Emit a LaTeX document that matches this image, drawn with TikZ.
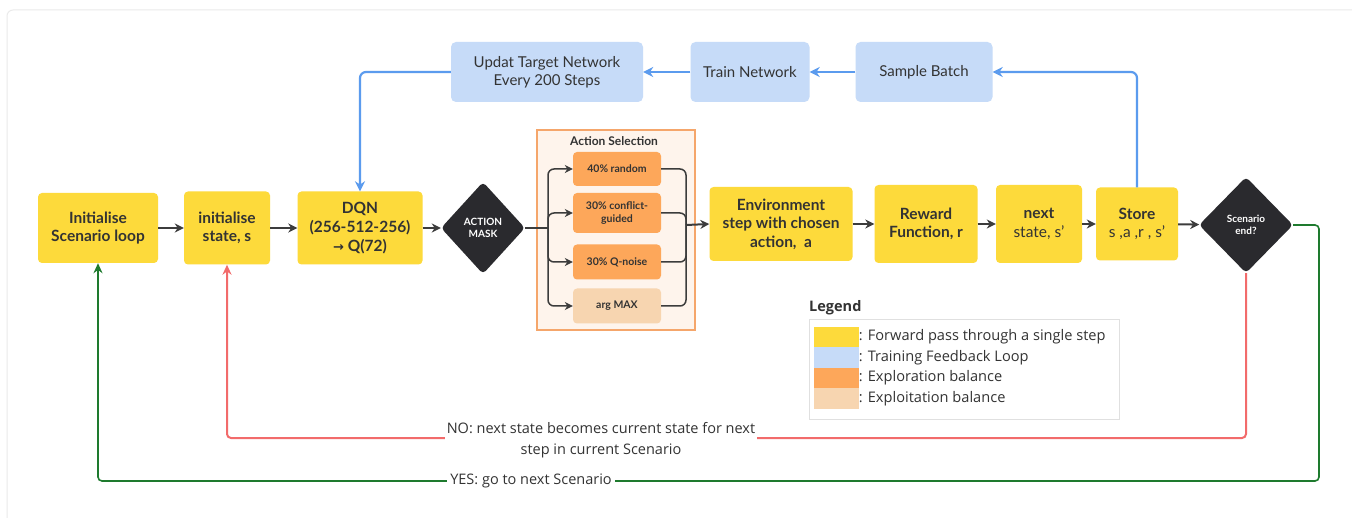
\documentclass[tikz,border=0pt]{standalone}
\usepackage{fontspec}
\setmainfont{Lato}
\newfontfamily\notosans{Open Sans}
\newfontfamily\symf{DejaVu Sans}
\usetikzlibrary{shapes.geometric,arrows.meta,positioning}
\definecolor{ybox}{HTML}{FDDA3B}
\definecolor{bbox}{HTML}{C6DBF8}
\definecolor{obox}{HTML}{FDA75A}
\definecolor{pbox}{HTML}{F7D5B0}
\definecolor{selfill}{HTML}{FEF4EC}
\definecolor{selline}{HTML}{F5A66B}
\definecolor{darkd}{HTML}{2A2A2E}
\definecolor{arrowc}{HTML}{3C3C3C}
\definecolor{bluel}{HTML}{5B9BEE}
\definecolor{redl}{HTML}{F26B6B}
\definecolor{greenl}{HTML}{1E7A2E}
\definecolor{txt}{HTML}{333333}
\tikzset{
  ynode/.style={fill=ybox, rounded corners=4pt, align=center, text=txt, inner sep=0pt, font=\fontsize{15.5}{18.5}\selectfont\bfseries},
  bnode/.style={fill=bbox, rounded corners=5pt, align=center, text=txt, inner sep=0pt, font=\fontsize{15}{18}\selectfont},
  onode/.style={fill=obox, rounded corners=4pt, align=center, text=txt, inner sep=0pt, minimum width=88pt, font=\fontsize{10.5}{12.5}\selectfont\bfseries},
  dnode/.style={diamond, fill=darkd, rounded corners=4pt, inner sep=0pt, align=center, text=white, font=\fontsize{10}{12}\selectfont\bfseries},
  darr/.style={draw=arrowc, line width=2pt, -{Stealth[length=9pt,width=9pt]}},
  barr/.style={draw=bluel, line width=2.2pt, rounded corners=6pt, -{Stealth[length=10pt,width=10pt]}},
  sarr/.style={draw=arrowc, line width=1.5pt, rounded corners=6pt, -{Stealth[length=8pt,width=8pt]}},
  sline/.style={draw=arrowc, line width=1.5pt, rounded corners=6pt},
  rarr/.style={draw=redl, line width=2pt, rounded corners=4pt, -{Stealth[length=10pt,width=9pt]}},
  garr/.style={draw=greenl, line width=1.6pt, rounded corners=4pt, -{Stealth[length=10pt,width=9pt]}},
  lbl/.style={fill=white, align=center, text=txt, inner sep=2pt, font=\notosans\fontsize{14.5}{21}\selectfont},
  swatch/.style={minimum width=45pt, minimum height=20.5pt, inner sep=0pt},
  legtxt/.style={anchor=west, text=txt, inner sep=0pt, font=\notosans\fontsize{14.6}{16}\selectfont}
}
\begin{document}
\begin{tikzpicture}[x=1pt,y=-1pt]
\useasboundingbox (0,0) rectangle (1352,518);
\fill[white] (0,0) rectangle (1352,518);
\draw[black!8, line width=1pt, rounded corners=6pt] (7,10) rectangle (1370,540);

% action selection frame
\node[draw=selline, fill=selfill, line width=1.2pt, minimum width=158pt, minimum height=200pt, inner sep=0pt] (sel) at (616,230) {};
\node[text=txt, font=\fontsize{12}{14}\selectfont\bfseries] (seltitle) at (614,141) {Action Selection};

% main row
\node[ynode, minimum width=120pt, minimum height=70pt] (init) at (98,228) {Initialise\\Scenario loop};
\node[ynode, minimum width=86pt, minimum height=73pt] (state) at (227,228) {initialise\\state, s};
\node[ynode, minimum width=125pt, minimum height=73pt, font=\fontsize{15.5}{19}\selectfont\bfseries] (dqn) at (360,228) {DQN\\(256-512-256)\\{\symf\fontsize{13}{19}\selectfont →} Q(72)};
\node[dnode, minimum width=84pt, minimum height=92pt] (mask) at (483,228) {ACTION\\MASK};

\node[onode, minimum height=34pt] (r40) at (617,169) {40\% random};
\node[onode, minimum height=40pt] (cg) at (617,213) {30\% conflict-\\guided};
\node[onode, minimum height=35pt] (qn) at (617,262) {30\% Q-noise};
\node[onode, fill=pbox, minimum height=35pt] (am) at (617,306) {arg MAX};

\node[ynode, minimum width=143pt, minimum height=74pt] (env) at (781,224) {Environment\\step with chosen\\action,\ \ a};
\node[ynode, minimum width=103pt, minimum height=78pt] (rew) at (926,224) {Reward\\Function, r};
\node[ynode, minimum width=86pt, minimum height=78pt] (nxt) at (1039,224) {next\\{\mdseries state, s'}};
\node[ynode, minimum width=82pt, minimum height=73pt] (store) at (1137,224) {Store\\{\mdseries s ,a ,r , s'}};
\node[dnode, minimum width=94pt, minimum height=96pt] (send) at (1246,225) {Scenario\\end?};

% training loop
\node[bnode, minimum width=192pt, minimum height=60pt] (upd) at (547,72) {Updat Target Network\\Every 200 Steps};
\node[bnode, minimum width=119pt, minimum height=60pt] (train) at (750,72) {Train Network};
\node[bnode, minimum width=137pt, minimum height=60pt] (samp) at (924,72) {Sample Batch};

% forward arrows
\draw[darr] (init) -- (state);
\draw[darr] (state) -- (dqn);
\draw[darr] (dqn) -- (mask);
\draw[darr] (env) -- (rew);
\draw[darr] (rew) -- (nxt);
\draw[darr] (nxt) -- (store);
\draw[darr] (store) -- (send);

% action selection branches
\coordinate (sp) at (548,228);
\coordinate (mg) at (686,225);
\draw[sline] (mask.east) -- (sp);
\draw[sarr] (sp) |- (r40.west);
\draw[sarr] (sp) |- (cg.west);
\draw[sarr] (sp) |- (qn.west);
\draw[sarr] (sp) |- (am.west);
\draw[sline] (r40.east) -| (mg);
\draw[sline] (cg.east) -| (mg);
\draw[sline] (qn.east) -| (mg);
\draw[sline] (am.east) -| (mg);
\draw[darr] (mg) -- (env.west);

% training loop arrows
\draw[barr] (store.north) |- (samp.east);
\draw[barr] (samp) -- (train);
\draw[barr] (train) -- (upd);
\draw[barr] (upd.west) -| (dqn.north);

% NO loop
\coordinate (r1) at (1246,438);
\draw[rarr] (send.south) -- (r1) -| (state.south);
\node[lbl] (nolbl) at (601,440) {NO: next state becomes current state for next\\step in current Scenario};

% YES loop
\coordinate (g1) at (1319,225);
\coordinate (g2) at (1319,481);
\draw[garr] (send.east) -- (g1) -- (g2) -| (init.south);
\node[lbl, inner sep=3pt] (yeslbl) at (531,481) {YES: go to next Scenario};

% legend
\node[anchor=west, text=txt, inner sep=0pt, font=\notosans\bfseries\fontsize{14.5}{16}\selectfont] (legt) at (809,308) {Legend};
\node[draw=black!12, line width=0.8pt, minimum width=310pt, minimum height=100pt, inner sep=0pt] (legbox) at (964,369) {};
\node[swatch, fill=ybox] (s1) at (836,337) {};
\node[swatch, fill=bbox] (s2) at (836,357.5) {};
\node[swatch, fill=obox] (s3) at (836,378) {};
\node[swatch, fill=pbox] (s4) at (836,398.5) {};
\node[legtxt] (t1) at (s1.east) {: Forward pass through a single step};
\node[legtxt] (t2) at (s2.east) {: Training Feedback Loop};
\node[legtxt] (t3) at (s3.east) {: Exploration balance};
\node[legtxt] (t4) at (s4.east) {: Exploitation balance};
\end{tikzpicture}
\end{document}
